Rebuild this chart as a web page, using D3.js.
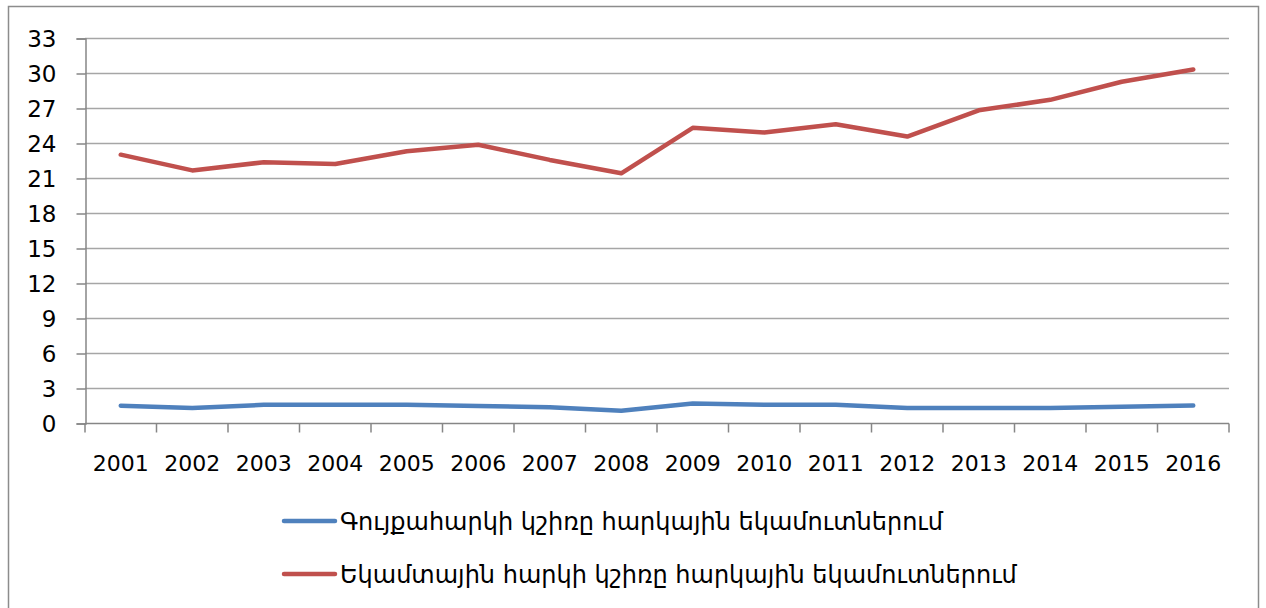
<!DOCTYPE html>
<html lang="hy">
<head>
    <meta charset="UTF-8">
    <title>Chart</title>
    <style>
        body { margin: 0; background: #fff; }
        text { font-family: "DejaVu Sans", sans-serif; fill: #000; }
        .line { fill: none; stroke-width: 4.5px; stroke-linejoin: round; stroke-linecap: round; }
    </style>
</head>
<body>

<svg width="1266" height="608"></svg>

<script src="https://cdn.jsdelivr.net/npm/d3@7"></script>

<script>
    var years = ["2001", "2002", "2003", "2004", "2005", "2006", "2007", "2008",
                 "2009", "2010", "2011", "2012", "2013", "2014", "2015", "2016"];
    var blueValues = [1.48, 1.28, 1.56, 1.56, 1.56, 1.45, 1.35, 1.05,
                      1.68, 1.56, 1.56, 1.28, 1.28, 1.28, 1.4, 1.5];
    var redValues = [23.0, 21.65, 22.35, 22.2, 23.3, 23.85, 22.55, 21.4,
                     25.3, 24.9, 25.6, 24.55, 26.8, 27.7, 29.25, 30.3];
    var yTicks = [0, 3, 6, 9, 12, 15, 18, 21, 24, 27, 30, 33];
    var seriesNames = ["Գույքահարկի կշիռը հարկային եկամուտներում",
                       "Եկամտային հարկի կշիռը հարկային եկամուտներում"];
    var seriesColors = ["#4F81BD", "#C0504D"];

    var svg = d3.select("svg")
    var margin = {top: 38, right: 37, bottom: 185, left: 85}
    var width = +svg.attr("width") - margin.left - margin.right
    var height = +svg.attr("height") - margin.top - margin.bottom

    // outer frame
    svg.append("rect")
        .attr("x", 8.5).attr("y", 6.5)
        .attr("width", 1250).attr("height", 620)
        .attr("fill", "none").attr("stroke", "#8c8c8c").attr("stroke-width", 1.5);

    var g = svg.append("g").attr("transform", `translate(${margin.left}, ${margin.top})`);

    var x = d3.scaleBand().domain(years).range([0, width]);
    var y = d3.scaleLinear().domain([0, 33]).range([height, 0]);

    // gridlines
    g.append("g")
        .selectAll("line")
        .data(yTicks.filter(d => d > 0))
        .join("line")
        .attr("x1", 0).attr("x2", width)
        .attr("y1", d => y(d) + 0.5).attr("y2", d => y(d) + 0.5)
        .attr("stroke", "#a6a6a6").attr("stroke-width", 1.5);

    // y axis
    var yAxis = g.append("g")
        .attr("transform", "translate(0.5, 0.5)")
        .call(d3.axisLeft(y).tickValues(yTicks).tickSize(9).tickPadding(20));
    yAxis.selectAll("text").style("font-size", "23px").attr("dy", "0.36em");
    yAxis.select(".domain").attr("stroke", "#868686").attr("stroke-width", 1.5);
    yAxis.selectAll(".tick line").attr("stroke", "#868686").attr("stroke-width", 1.5);

    // x axis with ticks between categories
    var xAxis = g.append("g").attr("transform", `translate(0, ${height + 0.5})`);
    xAxis.append("line")
        .attr("x1", 0).attr("x2", width)
        .attr("stroke", "#868686").attr("stroke-width", 1.5);
    xAxis.selectAll("line.tick")
        .data(d3.range(years.length + 1))
        .join("line")
        .attr("class", "tick")
        .attr("x1", i => i * x.step()).attr("x2", i => i * x.step())
        .attr("y1", 0).attr("y2", 9)
        .attr("stroke", "#868686").attr("stroke-width", 1.5);
    xAxis.selectAll("text")
        .data(years)
        .join("text")
        .attr("x", d => x(d) + x.bandwidth() / 2)
        .attr("y", 47)
        .attr("text-anchor", "middle")
        .style("font-size", "22px")
        .text(d => d);

    var line = d3.line()
        .x((d, i) => x(years[i]) + x.bandwidth() / 2)
        .y(d => y(d));

    g.append("path").datum(blueValues)
        .attr("class", "line").attr("stroke", seriesColors[0]).attr("d", line);
    g.append("path").datum(redValues)
        .attr("class", "line").attr("stroke", seriesColors[1]).attr("d", line);

    // legend
    var legend = svg.append("g");
    seriesNames.forEach(function (name, i) {
        var ly = 521 + i * 53;
        legend.append("line")
            .attr("x1", 284).attr("x2", 335)
            .attr("y1", ly).attr("y2", ly)
            .attr("stroke", seriesColors[i]).attr("stroke-width", 4.5)
            .attr("stroke-linecap", "round");
        legend.append("text")
            .attr("x", 340).attr("y", ly)
            .attr("dy", "0.36em")
            .style("font-size", "24px")
            .text(name);
    });
</script>
</body>
</html>
